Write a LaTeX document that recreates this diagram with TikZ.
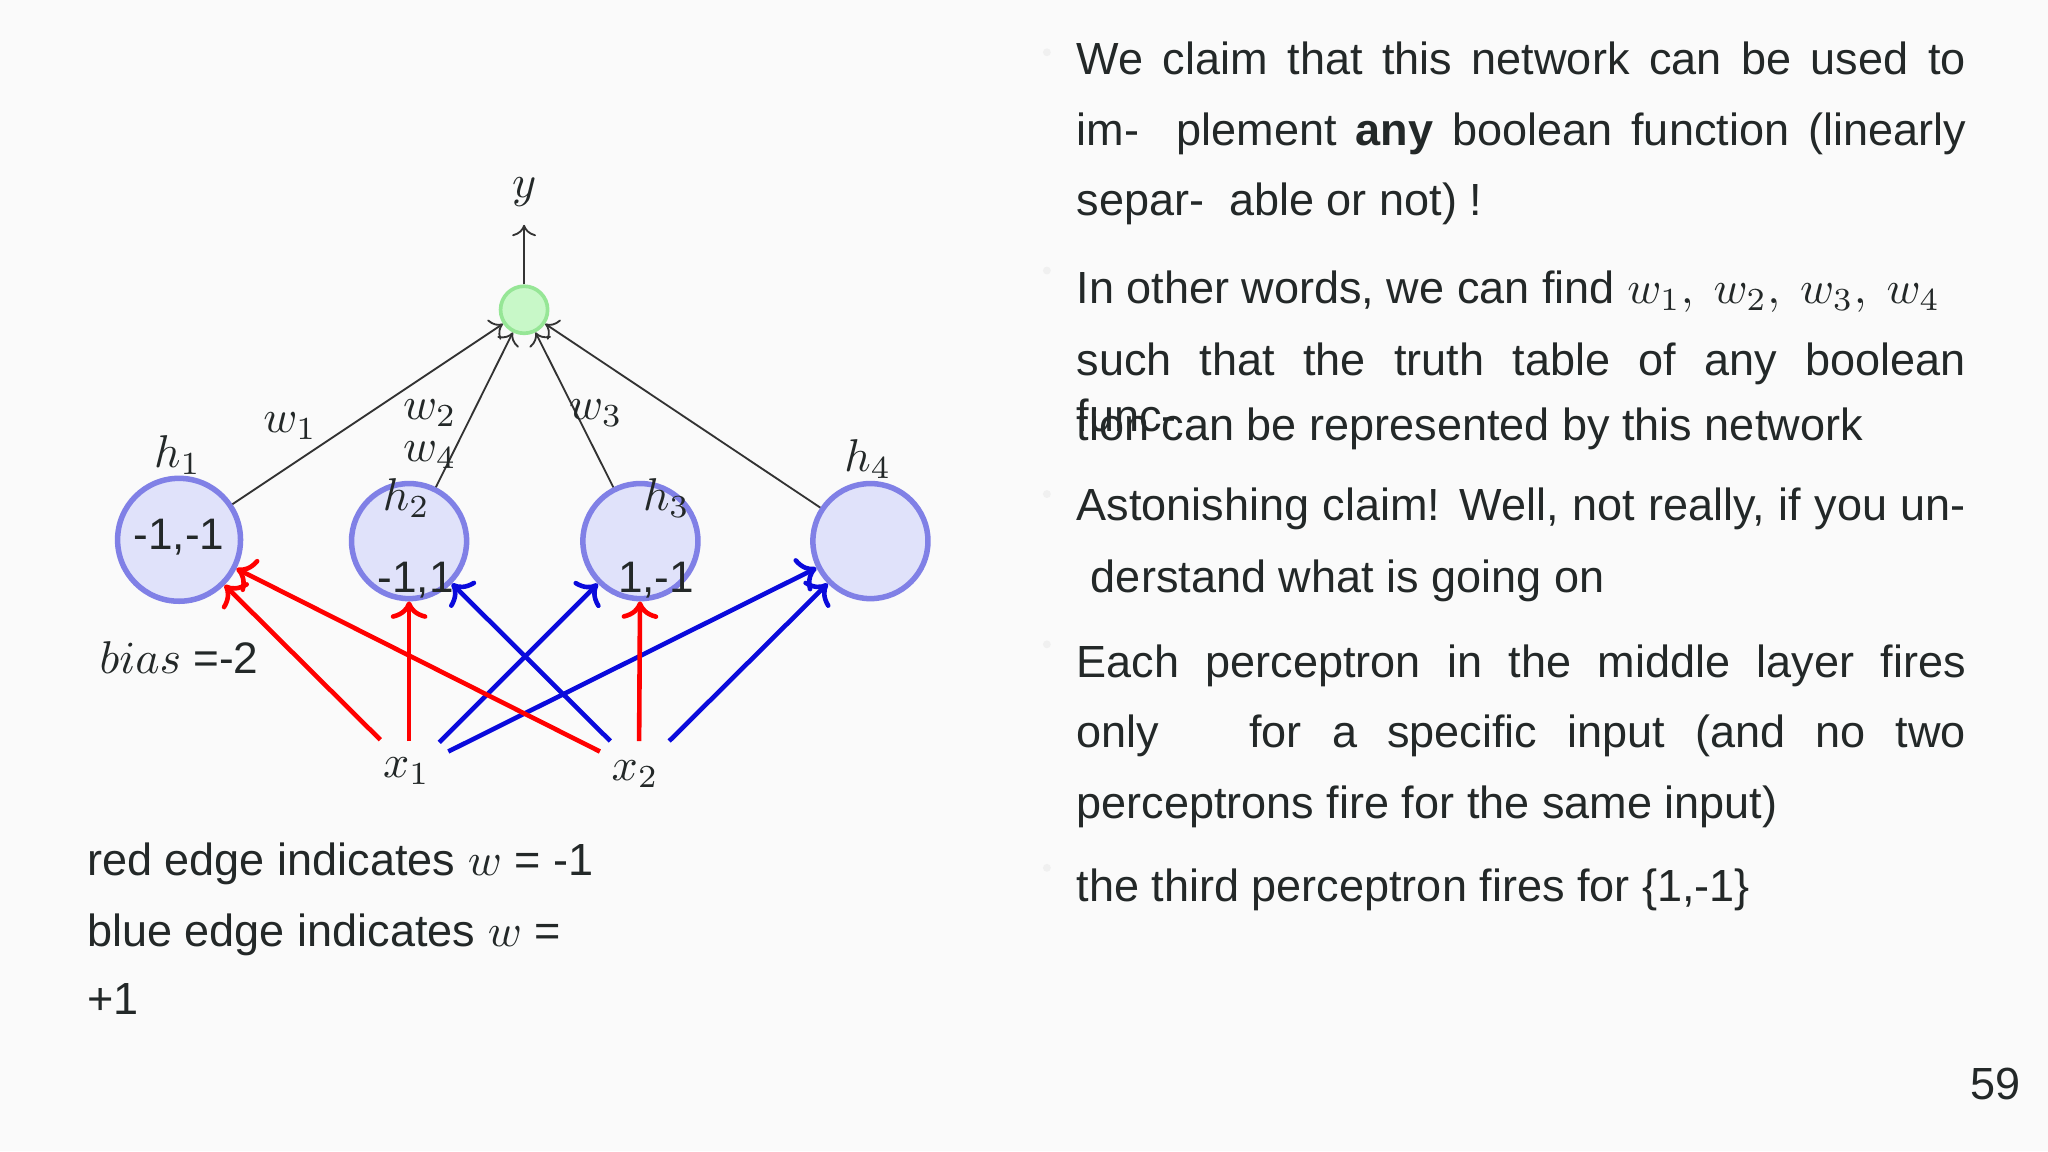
\documentclass[tikz,border=0pt]{standalone}
\usepackage{fontspec}
\setmainfont{Liberation Sans}
\usetikzlibrary{arrows.meta}
\definecolor{hfill}{RGB}{224,226,250}
\definecolor{hdraw}{RGB}{128,128,230}
\definecolor{yfill}{RGB}{200,248,200}
\definecolor{ydraw}{RGB}{150,230,150}
\definecolor{txt}{RGB}{35,40,40}
\definecolor{edgeblue}{RGB}{10,10,220}
\tikzset{
  hidden/.style={circle, draw=hdraw, fill=hfill, line width=1.2pt, inner sep=0pt},
  outnode/.style={circle, draw=ydraw, fill=yfill, line width=0.8pt, inner sep=0pt, minimum size=0.36cm},
  wire/.style={->, thin, black!80},
  redge/.style={->, line width=1pt, red},
  bedge/.style={->, line width=1pt, edgeblue},
  line/.style={anchor=base west, inner sep=0pt, font=\fontsize{9.8}{11}\selectfont, text=txt},
  lbl/.style={inner sep=0pt, text=txt, font=\fontsize{9.6}{11}\selectfont},
}
\newcommand{\jline}[1]{\makebox[6.8cm][s]{#1}}
\begin{document}
\begin{tikzpicture}[x=0.01cm, y=-0.01cm]
  \fill[black!2] (0,0) rectangle (1567,881);
  \useasboundingbox (0,0) rectangle (1567,881);

  % Output node
  \node[outnode] (out) at (401,237) {};
  \coordinate (ytip) at (401,172);
  \draw[wire] (out) -- (ytip);
  \node[lbl] (ylab) at (401,147) {$y$};

  % Hidden layer
  \node[hidden, minimum size=0.94cm] (h1) at (137,413) {};
  \node[hidden, minimum size=0.88cm] (h2) at (313,414) {};
  \node[hidden, minimum size=0.88cm] (h3) at (490,414) {};
  \node[hidden, minimum size=0.88cm] (h4) at (666,414) {};

  \node[lbl] at (137,411) {-1,-1};
  \node[lbl] at (318,444) {-1,1};
  \node[lbl] at (502,444) {1,-1};

  \node[lbl] at (136,348) {$h_1$};
  \node[lbl] at (311,381) {$h_2$};
  \node[lbl] at (510,381) {$h_3$};
  \node[lbl] at (664,351) {$h_4$};

  % Hidden to output
  \draw[wire] (h1) -- (out);
  \draw[wire] (h2) -- (out);
  \draw[wire] (h3) -- (out);
  \draw[wire] (h4) -- (out);

  \node[lbl] at (222,326) {$w_1$};
  \node[lbl] at (329,316) {$w_2$};
  \node[lbl] at (329,348) {$w_4$};
  \node[lbl] at (456,316) {$w_3$};

  % Inputs
  \node[lbl] (x1) at (311,590) {$x_1$};
  \node[lbl] (x2) at (486,592) {$x_2$};
  \coordinate (x1a) at (291,566);
  \coordinate (x1b) at (313,567);
  \coordinate (x1c) at (336,568);
  \coordinate (x1d) at (343,575);
  \coordinate (x2a) at (459,575);
  \coordinate (x2b) at (467,567);
  \coordinate (x2c) at (489,567);
  \coordinate (x2d) at (512,567);

  \draw[redge] (x1a) -- (h1);
  \draw[redge] (x1b) -- (h2);
  \draw[bedge] (x1c) -- (h3);
  \draw[bedge] (x1d) -- (h4);
  \draw[redge] (x2a) -- (h1);
  \draw[bedge] (x2b) -- (h2);
  \draw[redge] (x2c) -- (h3);
  \draw[bedge] (x2d) -- (h4);

  \node[lbl] at (137,503) {$bias$ =-2};

  % Legend
  \node[line] at (66,670) {red edge indicates $w$ = -1};
  \node[line] at (66,724) {blue edge indicates $w$ =};
  \node[line] at (66,776) {+1};

  % Bullets
  \foreach \yb in {40,207,378,493,664}
    \fill[black!6] (801,\yb) circle (3);

  % Right-hand text
  \node[line] at (823,57) {\jline{We claim that this network can be used to}};
  \node[line] at (823,111) {\jline{im-\ \ plement \textbf{any} boolean function (linearly}};
  \node[line] at (823,165) {separ-\ \ able or not) !};

  \node[line] at (823,232) {In other words, we can find $w_1,\ w_2,\ w_3,\ w_4$};
  \node[line] at (823,287) {\jline{such that the truth table of any boolean}};
  \node[line] at (823,330) {func-};
  \node[line] at (823,337) {tion can be represented by this network};

  \node[line] at (823,398) {\jline{Astonishing claim! Well, not really, if you un-}};
  \node[line] at (834,453) {derstand what is going on};

  \node[line] at (823,518) {\jline{Each perceptron in the middle layer fires}};
  \node[line] at (823,572) {\jline{only\ \ \ for a specific input (and no two}};
  \node[line] at (823,626) {perceptrons\ fire for the same input)};

  \node[line] at (823,690) {the third perceptron fires for \{1,-1\}};

  \node[line] at (1507,841) {59};
\end{tikzpicture}
\end{document}
